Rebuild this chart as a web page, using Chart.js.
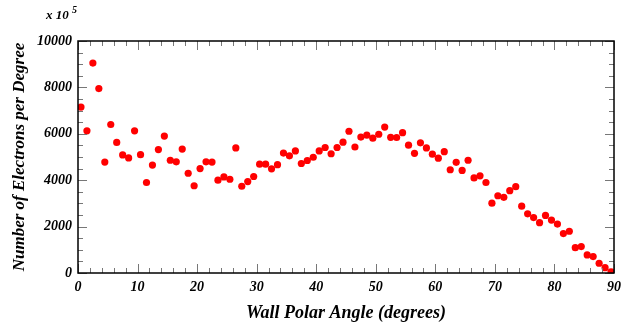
<!DOCTYPE html>
<html>
<head>
<meta charset="utf-8">
<script src="https://cdn.jsdelivr.net/npm/chart.js@4/dist/chart.umd.min.js"></script>
<style>
html,body{margin:0;padding:0;background:#fff;}
canvas{display:block;}
</style>
</head>
<body>
<canvas id="c" width="632" height="327"></canvas>
<script>
// Wall polar angle bin centres (degrees)
const angles = [0.5,1.5,2.5,3.5,4.5,5.5,6.5,7.5,8.5,9.5,
  10.5,11.5,12.5,13.5,14.5,15.5,16.5,17.5,18.5,19.5,
  20.5,21.5,22.5,23.5,24.5,25.5,26.5,27.5,28.5,29.5,
  30.5,31.5,32.5,33.5,34.5,35.5,36.5,37.5,38.5,39.5,
  40.5,41.5,42.5,43.5,44.5,45.5,46.5,47.5,48.5,49.5,
  50.5,51.5,52.5,53.5,54.5,55.5,56.5,57.5,58.5,59.5,
  60.5,61.5,62.5,63.5,64.5,65.5,66.5,67.5,68.5,69.5,
  70.5,71.5,72.5,73.5,74.5,75.5,76.5,77.5,78.5,79.5,
  80.5,81.5,82.5,83.5,84.5,85.5,86.5,87.5,88.5,89.5];
// Number of electrons per degree (units of 10^5)
const electrons = [7150,6130,9050,7950,4780,6400,5630,5090,4960,6130,
  5100,3900,4650,5320,5900,4860,4790,5340,4300,3760,
  4500,4790,4780,4000,4140,4040,5390,3740,3940,4160,
  4690,4690,4490,4670,5170,5050,5260,4720,4850,4990,
  5260,5410,5140,5410,5640,6110,5430,5860,5940,5810,
  5980,6290,5850,5840,6050,5510,5160,5610,5390,5120,
  4950,5230,4450,4770,4420,4860,4100,4190,3900,3010,
  3330,3260,3550,3720,2880,2550,2390,2170,2480,2280,
  2110,1700,1800,1090,1140,780,710,420,230,50];
const xTitle = "Wall Polar Angle (degrees)";
const yTitle = "Number of Electrons per Degree";
const xMajorStep = 10, xMinorStep = 2;
const yMajorStep = 2000, yMinorStep = 500;

const FAMILY = '"Liberation Serif", "DejaVu Serif", serif';

const frameTicks = {
  id: 'frameTicks',
  afterDraw(chart) {
    const {ctx, chartArea: a, scales: {x, y}} = chart;
    ctx.save();
    ctx.strokeStyle = '#777';
    ctx.lineWidth = 1;
    const major = 9, minor = 5;
    for (let v = x.min; v <= x.max + 1e-9; v += xMinorStep) {
      const px = Math.round(x.getPixelForValue(v)) + 0.5;
      const len = (Math.abs(v % xMajorStep) < 1e-6) ? major : minor;
      ctx.beginPath();
      ctx.moveTo(px, a.bottom); ctx.lineTo(px, a.bottom - len);
      ctx.moveTo(px, a.top); ctx.lineTo(px, a.top + len);
      ctx.stroke();
    }
    for (let v = y.min; v <= y.max + 1e-9; v += yMinorStep) {
      const py = Math.round(y.getPixelForValue(v)) + 0.5;
      const len = (Math.abs(v % yMajorStep) < 1e-6) ? major : minor;
      ctx.beginPath();
      ctx.moveTo(a.left, py); ctx.lineTo(a.left + len, py);
      ctx.moveTo(a.right, py); ctx.lineTo(a.right - len, py);
      ctx.stroke();
    }
    ctx.strokeStyle = '#000';
    ctx.lineWidth = 1.5;
    ctx.strokeRect(a.left, a.top, a.right - a.left, a.bottom - a.top);
    // exponent label
    ctx.fillStyle = '#000';
    ctx.textBaseline = 'alphabetic';
    ctx.textAlign = 'left';
    ctx.font = 'italic bold 13px ' + FAMILY;
    ctx.fillText('x 10', 46, 19);
    ctx.font = 'italic bold 10px ' + FAMILY;
    ctx.fillText('5', 72, 13);
    ctx.restore();
  }
};

const tickFont = {family: FAMILY, size: 14, style: 'italic', weight: 'bold'};
const xTitleFont = {family: FAMILY, size: 18, style: 'italic', weight: 'bold'};
const yTitleFont = {family: FAMILY, size: 17, style: 'italic', weight: 'bold'};

new Chart(document.getElementById('c'), {
  type: 'scatter',
  data: {
    datasets: [{
      data: angles.map((a, i) => ({x: a, y: electrons[i]})),
      backgroundColor: '#ff0000',
      borderWidth: 0,
      pointRadius: 3.6,
      pointHoverRadius: 3.6
    }]
  },
  options: {
    responsive: false,
    animation: false,
    devicePixelRatio: 1,
    layout: {padding: {top: 41, right: 18, left: 0, bottom: 0}},
    plugins: {legend: {display: false}, tooltip: {enabled: false}},
    scales: {
      x: {
        type: 'linear', min: 0, max: 90,
        grid: {display: false, drawTicks: false},
        border: {display: false},
        ticks: {stepSize: xMajorStep, font: tickFont, color: '#000', padding: 6, maxRotation: 0,
          callback: v => String(v)},
        title: {display: true, text: xTitle, font: xTitleFont, color: '#000', padding: {top: 0, bottom: 3}},
        afterFit(s) { s.height = 54; }
      },
      y: {
        type: 'linear', min: 0, max: 10000,
        grid: {display: false, drawTicks: false},
        border: {display: false},
        ticks: {stepSize: yMajorStep, font: tickFont, color: '#000', padding: 6,
          callback: v => String(v)},
        title: {display: true, text: yTitle, font: yTitleFont, color: '#000', padding: {top: 9, bottom: 0}},
        afterFit(s) { s.width = 78; }
      }
    }
  },
  plugins: [frameTicks]
});
</script>
</body>
</html>
